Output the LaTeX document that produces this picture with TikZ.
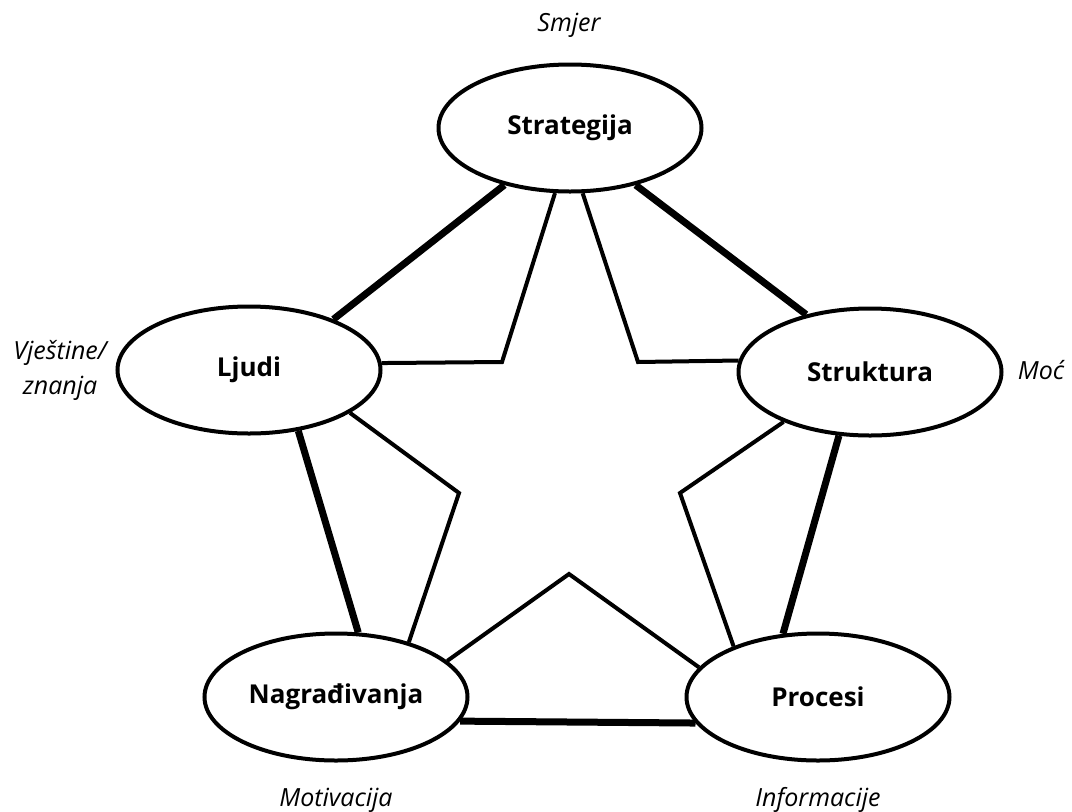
\documentclass[tikz,border=0pt]{standalone}
\usepackage{fontspec}
\setmainfont{Open Sans}
\usetikzlibrary{shapes.geometric}
\begin{document}
\begin{tikzpicture}[x=1pt,y=-1pt,
  elbox/.style={ellipse,draw,line width=4pt,minimum width=263pt,minimum height=127pt,inner sep=0pt,fill=white,font=\fontsize{26}{30}\selectfont\bfseries},
  lbl/.style={font=\fontsize{25}{35}\selectfont\itshape,align=center,inner sep=0pt},
  edgeline/.style={line width=7pt},
  starline/.style={line width=4pt,line join=miter}]
\useasboundingbox (0,0) rectangle (1072,812);
% ellipses
\node[elbox] (S) at (570,128) {Strategija};
\node[elbox] (L) at (249,370) {Ljudi};
\node[elbox] (T) at (870,372) {Struktura};
\node[elbox] (N) at (336,697) {Nagrađivanja};
\node[elbox] (P) at (818,697) {Procesi};
% labels
\node[lbl] (lS) at (569,25) {Smjer};
\node[lbl] (lL) at (60,370) {Vještine/\\znanja};
\node[lbl] (lT) at (1041,370) {Moć};
\node[lbl] (lN) at (336,800) {Motivacija};
\node[lbl] (lP) at (818,800) {Informacije};
% star inner vertices
\coordinate (v1) at (502,362);
\coordinate (v2) at (638,362);
\coordinate (v3) at (459,493);
\coordinate (v4) at (680,493);
\coordinate (v5) at (569,574);
% pentagon edges
\draw[edgeline] (S.-139.4) -- (L.31.8);
\draw[edgeline] (S.-41.4) -- (T.138.2);
\draw[edgeline] (L.-51) -- (N.71.8);
\draw[edgeline] (T.-116.2) -- (P.119.6);
\draw[edgeline] (N.-11.2) -- (P.-168.8);
% star
\draw[starline] (L.3.4) -- (v1) -- (S.-103.8);
\draw[starline] (S.-79.3) -- (v2) -- (T.175.7);
\draw[starline] (L.-23.6) -- (v3) -- (N.37.8);
\draw[starline] (T.-150.9) -- (v4) -- (P.149.4);
\draw[starline] (N.18.4) -- (v5) -- (P.166);
\end{tikzpicture}
\end{document}
